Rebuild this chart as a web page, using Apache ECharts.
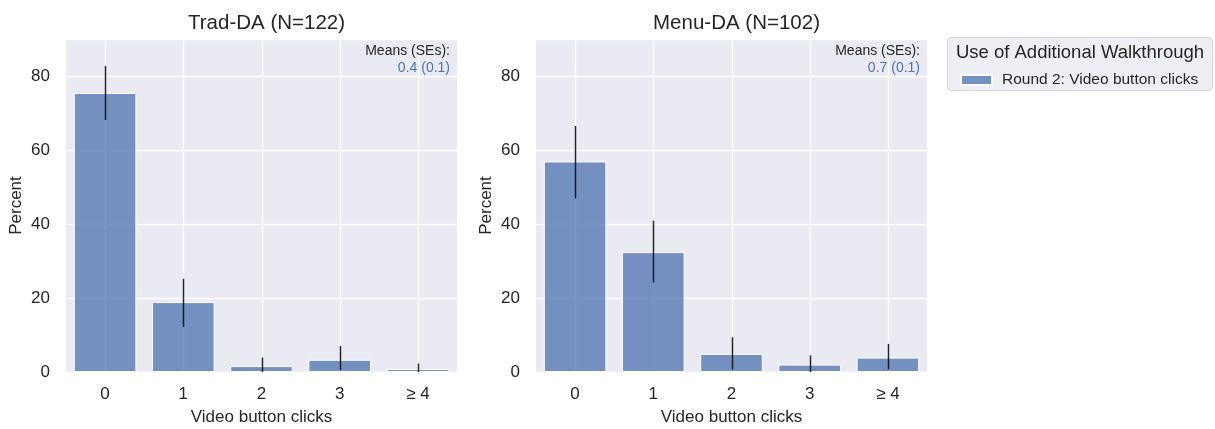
<!DOCTYPE html>
<html>
<head>
<meta charset="utf-8">
<script src="https://cdn.jsdelivr.net/npm/echarts@6/dist/echarts.min.js"></script>
<style>
  html, body { margin: 0; padding: 0; background: #fff; }
  #chart { width: 1215px; height: 429px; }
</style>
</head>
<body>
<div id="chart"></div>
<script>
// categories and values
const categories = ['0', '1', '2', '3', '≥ 4'];

const tradPct = [75.4, 18.9, 1.6, 3.3, 0.8];
const tradLo  = [68.1, 12.2, 0.0, 0.6, 0.0];
const tradHi  = [82.7, 25.2, 3.9, 7.0, 2.3];

const menuPct = [56.9, 32.4, 4.9, 2.0, 3.9];
const menuLo  = [46.9, 24.2, 0.7, 0.0, 0.7];
const menuHi  = [66.5, 40.9, 9.4, 4.5, 7.6];

const panelTitles = ['Trad-DA (N=122)', 'Menu-DA (N=102)'];
const meanTexts = ['0.4 (0.1)', '0.7 (0.1)'];
const seriesName = 'Round 2: Video button clicks';
const legendTitle = 'Use of Additional Walkthrough';

const FONT = '"Liberation Sans", Arial, sans-serif';
const TEXT = '#262626';
const BLUE = '#4c72b0';

const chart = echarts.init(document.getElementById('chart'));

const grids = [
    {left: 66, top: 39, width: 391, height: 333},
    {left: 536, top: 39, width: 391, height: 333}
];

function xAxisFor(i) {
    return {
        type: 'category',
        gridIndex: i,
        data: categories,
        axisLine: {show: false},
        axisTick: {show: false},
        splitLine: {show: false},
        axisLabel: {fontSize: 17, color: TEXT, fontFamily: FONT, margin: 14},
        name: 'Video button clicks',
        nameLocation: 'middle',
        nameGap: 37,
        nameTextStyle: {fontSize: 17, color: TEXT, fontFamily: FONT}
    };
}

function yAxisFor(i) {
    return {
        type: 'value',
        gridIndex: i,
        min: 0,
        max: 90,
        interval: 20,
        axisLine: {show: false},
        axisTick: {show: false},
        splitLine: {lineStyle: {color: '#ffffff', width: 1.3}},
        axisLabel: {fontSize: 17, color: TEXT, fontFamily: FONT, margin: 16, showMaxLabel: false,
            formatter: v => (v % 20 === 0 ? String(v) : '')},
        name: 'Percent',
        nameLocation: 'middle',
        nameGap: 41,
        nameTextStyle: {fontSize: 17, color: TEXT, fontFamily: FONT}
    };
}

// vertical white grid lines at category centres, drawn under the bars
function vGridSeries(i) {
    return {
        type: 'custom',
        xAxisIndex: i,
        yAxisIndex: i,
        z: 1,
        silent: true,
        data: categories.map((c, k) => [k]),
        renderItem: function (params, api) {
            const cs = params.coordSys;
            const x = Math.round(api.coord([api.value(0), 0])[0]) + 0.5;
            return {
                type: 'line',
                shape: {x1: x, y1: cs.y, x2: x, y2: cs.y + cs.height},
                style: {stroke: '#ffffff', lineWidth: 1.3}
            };
        }
    };
}

function barSeries(i, values) {
    return {
        name: seriesName,
        type: 'bar',
        xAxisIndex: i,
        yAxisIndex: i,
        data: values,
        z: 2,
        barCategoryGap: '20%',
        itemStyle: {color: 'rgba(76,114,176,0.75)', borderColor: '#ffffff', borderWidth: 1}
    };
}

function errSeries(i, lo, hi) {
    return {
        type: 'custom',
        xAxisIndex: i,
        yAxisIndex: i,
        z: 3,
        silent: true,
        data: categories.map((c, k) => [k, lo[k], hi[k]]),
        renderItem: function (params, api) {
            const p1 = api.coord([api.value(0), api.value(1)]);
            const p2 = api.coord([api.value(0), api.value(2)]);
            const x = Math.round(p1[0]) + 0.5;
            return {
                type: 'line',
                shape: {x1: x, y1: p1[1], x2: x, y2: p2[1]},
                style: {stroke: 'rgba(15,15,15,0.9)', lineWidth: 1.5}
            };
        }
    };
}

const titles = [];
panelTitles.forEach((t, i) => {
    titles.push({
        text: t,
        left: grids[i].left + grids[i].width / 2,
        top: 8,
        textAlign: 'center',
        textStyle: {fontSize: 20.5, fontWeight: 'normal', color: TEXT, fontFamily: FONT}
    });
});

const graphics = [];
meanTexts.forEach((t, i) => {
    const xr = grids[i].left + grids[i].width - 7;
    graphics.push({
        type: 'text', x: xr, y: 51, z: 10,
        style: {text: 'Means (SEs):', fill: TEXT, font: '14px ' + FONT, textAlign: 'right', textVerticalAlign: 'middle'}
    });
    graphics.push({
        type: 'text', x: xr, y: 68, z: 10,
        style: {text: t, fill: BLUE, font: '14px ' + FONT, textAlign: 'right', textVerticalAlign: 'middle'}
    });
});
// legend frame and title
graphics.push({
    type: 'rect', z: 0,
    shape: {x: 947.5, y: 37.5, width: 265, height: 53, r: 4},
    style: {fill: 'rgba(234,234,242,0.8)', stroke: '#d5d5da', lineWidth: 1}
});
graphics.push({
    type: 'text', x: 1080, y: 53, z: 1,
    style: {text: legendTitle, fill: TEXT, font: '18.5px ' + FONT, textAlign: 'center', textVerticalAlign: 'middle'}
});

const option = {
    backgroundColor: '#ffffff',
    animation: false,
    title: titles,
    graphic: graphics,
    legend: {
        data: [seriesName],
        left: 955,
        top: 67,
        itemWidth: 31,
        itemHeight: 10,
        icon: 'rect',
        itemGap: 4,
        textStyle: {fontSize: 15.5, color: TEXT, fontFamily: FONT, padding: [0, 0, 0, 5]}
    },
    grid: grids.map(g => Object.assign({show: true, backgroundColor: '#eaeaf2', borderWidth: 0,
        outerBoundsMode: 'none', containLabel: false}, g)),
    xAxis: [xAxisFor(0), xAxisFor(1)],
    yAxis: [yAxisFor(0), yAxisFor(1)],
    series: [
        vGridSeries(0), vGridSeries(1),
        barSeries(0, tradPct), barSeries(1, menuPct),
        errSeries(0, tradLo, tradHi), errSeries(1, menuLo, menuHi)
    ]
};

chart.setOption(option);
</script>
</body>
</html>
